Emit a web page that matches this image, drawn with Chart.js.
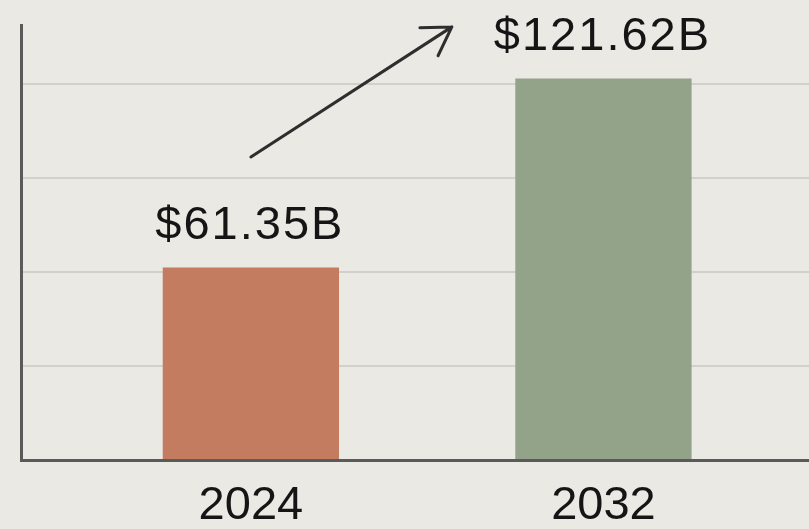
<!DOCTYPE html>
<html>
<head>
<meta charset="utf-8">
<script src="https://cdn.jsdelivr.net/npm/chart.js@4"></script>
<style>
  html, body { margin: 0; padding: 0; background: #ebe9e4; }
  #wrap { width: 809px; height: 529px; }
</style>
</head>
<body>
<div id="wrap"><canvas id="market"></canvas></div>
<script>
// values
var years = ['2024', '2032'];
var marketSize = [61.35, 121.62];      // billions USD
var barColors = ['#c47c60', '#93a38a'];
// trend arrow, in data units (x = bar index, y = value)
var arrowFrom = [0, 96.6];
var arrowTo = [0.57, 138.1];

var font = "'Liberation Sans', Arial, sans-serif";

// value labels + trend arrow drawn through the chart scales
var extras = {
  id: 'extras',
  afterDatasetsDraw: function(chart) {
    var ctx = chart.ctx;
    var xs = chart.scales.x, ys = chart.scales.y;
    var meta = chart.getDatasetMeta(0);
    ctx.save();
    ctx.fillStyle = '#151515';
    ctx.font = '47px ' + font;
    ctx.letterSpacing = '2px';
    ctx.textAlign = 'center';
    ctx.textBaseline = 'alphabetic';
    meta.data.forEach(function(bar, i) {
      ctx.fillText('$' + marketSize[i].toFixed(2) + 'B', bar.x - 1, bar.y - 29);
    });

    var x1 = xs.getPixelForValue(arrowFrom[0]), y1 = ys.getPixelForValue(arrowFrom[1]);
    var x2 = xs.getPixelForValue(arrowTo[0]), y2 = ys.getPixelForValue(arrowTo[1]);
    var ang = Math.atan2(y2 - y1, x2 - x1);
    var head = 32, spread = 0.55;
    ctx.strokeStyle = '#2e2e2e';
    ctx.lineWidth = 3;
    ctx.lineCap = 'round';
    ctx.lineJoin = 'round';
    ctx.beginPath();
    ctx.moveTo(x1, y1);
    ctx.lineTo(x2, y2);
    ctx.moveTo(x2 - head * Math.cos(ang - spread), y2 - head * Math.sin(ang - spread));
    ctx.lineTo(x2, y2);
    ctx.lineTo(x2 - head * Math.cos(ang + spread), y2 - head * Math.sin(ang + spread));
    ctx.stroke();
    ctx.restore();
  }
};

var chart = new Chart('market', {
  type: 'bar',
  data: {
    datasets: [{
      data: marketSize.map(function(v, i) { return {x: i, y: v}; }),
      backgroundColor: barColors,
      borderWidth: 0,
      categoryPercentage: 1,
      barPercentage: 0.5
    }]
  },
  options: {
    responsive: true,
    maintainAspectRatio: false,
    animation: false,
    layout: { padding: { left: 21, top: 25, right: 0, bottom: 0 } },
    plugins: { legend: { display: false }, tooltip: { enabled: false } },
    scales: {
      x: {
        type: 'linear',
        offset: false,
        min: -0.652,
        max: 1.583,
        grid: { display: false, drawTicks: false, offset: false },
        border: { display: true, color: '#5a5a5a', width: 3 },
        // one tick per year, at the bar positions
        afterBuildTicks: function(scale) {
          scale.ticks = years.map(function(y, i) { return {value: i}; });
        },
        afterFit: function(scale) { scale.height = 69; },
        ticks: {
          autoSkip: false,
          maxRotation: 0,
          padding: 18,
          color: '#151515',
          font: { family: font, size: 47 },
          callback: function(v) { return years[Math.round(v)] || ''; }
        }
      },
      y: {
        min: 0,
        max: 138.7,
        afterFit: function(scale) { scale.width = 0; },
        ticks: { display: false, stepSize: 30 },
        border: { display: true, color: '#5a5a5a', width: 3 },
        grid: {
          drawTicks: false,
          lineWidth: 2,
          color: function(c) {
            var v = c.tick && c.tick.value;
            return (v > 0 && v % 30 === 0) ? '#d2d0ca' : 'rgba(0,0,0,0)';
          }
        }
      }
    }
  },
  plugins: [extras]
});
</script>
</body>
</html>
